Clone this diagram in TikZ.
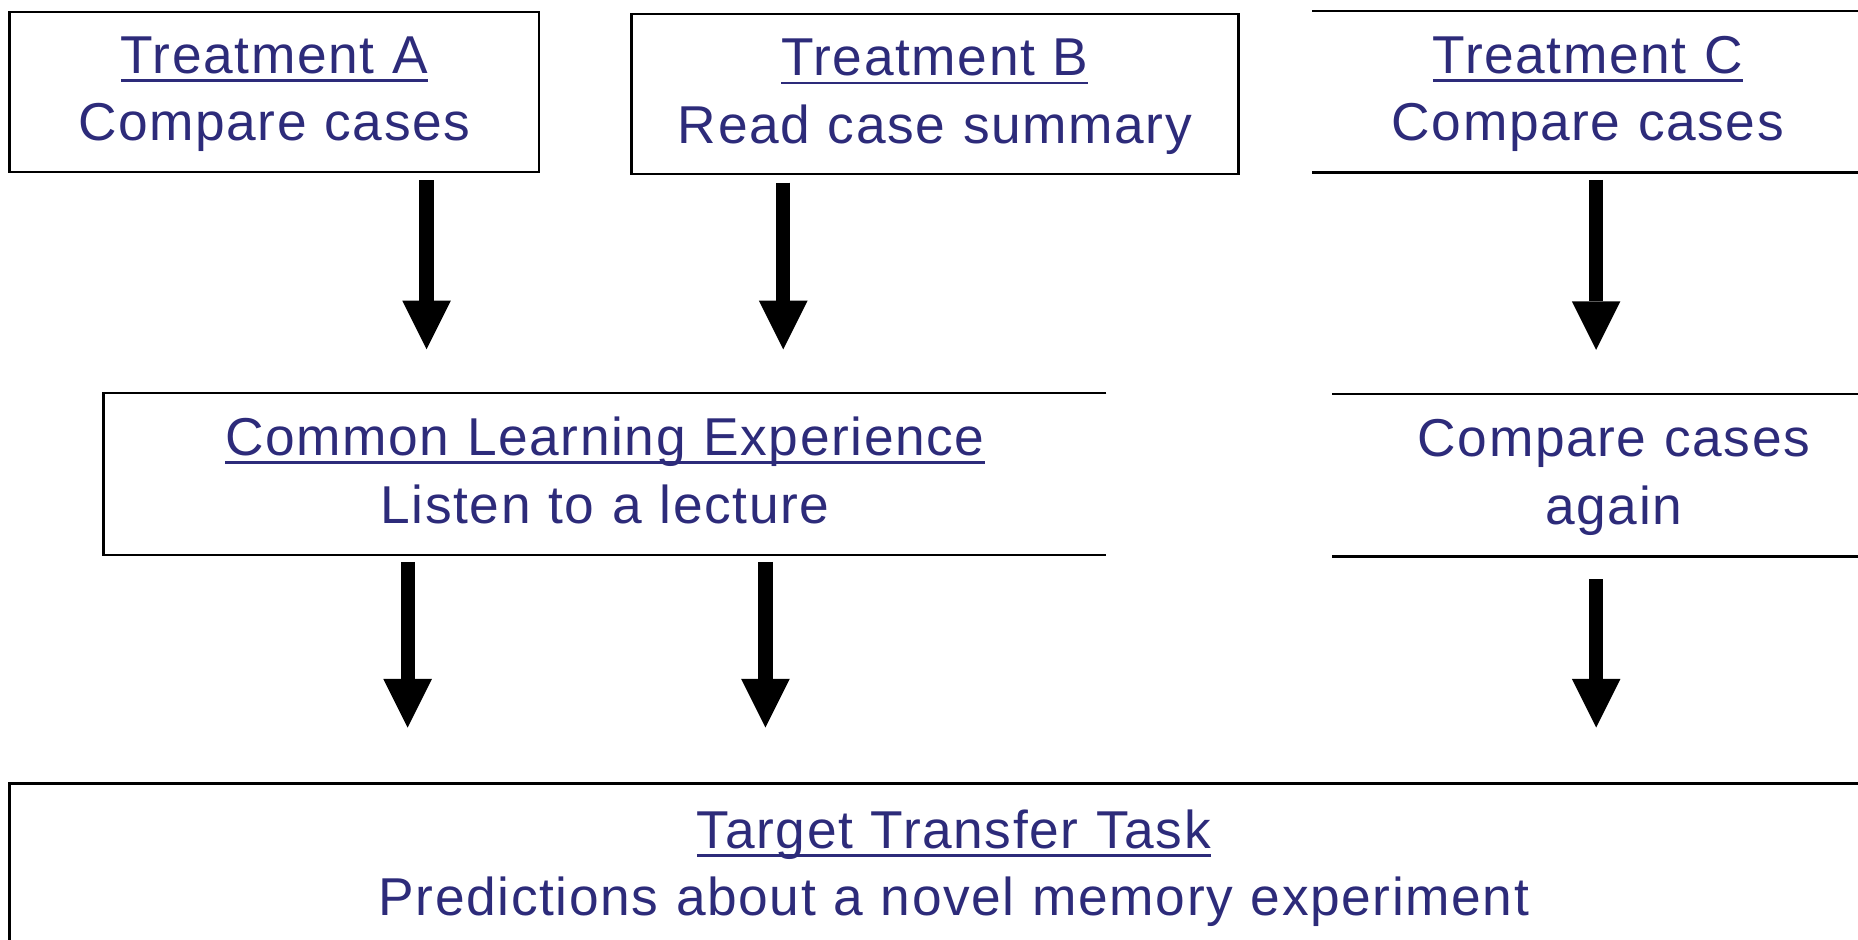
\documentclass[tikz,border=0pt]{standalone}
\usepackage{fontspec}
\setmainfont{Liberation Sans}[LetterSpace=3]
\usetikzlibrary{arrows.meta}
\definecolor{ink}{RGB}{45,43,122}
\newcommand{\hdline}[1]{\leavevmode\setbox0=\hbox{#1}\rlap{\rule[-0.16em]{\wd0}{0.05em}}\box0}
\tikzset{
  block/.style={text width=#1, align=center, minimum height=13.5mm, inner sep=0pt,
    text height=3.3mm, text depth=6.4mm, text=ink,
    font=\fontsize{12.8pt}{16.2pt}\selectfont},
  boxline/.style={draw=black, line width=0.6pt},
  flow/.style={line width=1.2mm, -{Triangle[width=4.1mm,length=4.1mm,line width=0pt]},
    shorten <=0.6mm, shorten >=3.7mm}
}

\begin{document}
\begin{tikzpicture}[x=0.1mm, y=-0.1mm]
\useasboundingbox (0,0) rectangle (1568,793);
\clip (0,0) rectangle (1568,793);
\node[block=44.7mm, boxline] (treatA) at (231.5,77.5) {\hdline{Treatment A}\\Compare cases};
\node[block=51.2mm, boxline] (treatB) at (789,79.5) {\hdline{Treatment B}\\Read case summary};
\node[block=46.4mm] (treatC) at (1340,77.5) {\hdline{Treatment C}\\Compare cases};
\node[block=84.5mm] (common) at (510.5,400) {\hdline{Common Learning Experience}\\Listen to a lecture};
\node[block=47.4mm, minimum height=13.6mm] (again) at (1362,401) {Compare cases\\again};
\node[block=159.4mm, minimum height=14.1mm, boxline] (target) at (805,731.5)
  {\hdline{Target Transfer Task}\\Predictions about a novel memory experiment};
% boxes with open sides
\draw[boxline] (treatC.north west) -- (treatC.north east) (treatC.south west) -- (treatC.south east);
\draw[boxline] (common.north east) -- (common.north west) -- (common.south west) -- (common.south east);
\draw[boxline] (again.north west) -- (again.north east) (again.south west) -- (again.south east);
% arrow columns
\coordinate (colA) at (360,0);
\coordinate (colB) at (661,0);
\coordinate (colC) at (1347,0);
\coordinate (colD) at (344,0);
\coordinate (colE) at (646,0);
\draw[flow] (treatA.south -| colA) -- (common.north -| colA);
\draw[flow] (treatB.south -| colB) -- (common.north -| colB);
\draw[flow] (treatC.south -| colC) -- (again.north -| colC);
\draw[flow, shorten >=4.6mm] (common.south -| colD) -- (target.north -| colD);
\draw[flow, shorten >=4.6mm] (common.south -| colE) -- (target.north -| colE);
\draw[flow, shorten <=1.9mm, shorten >=4.6mm] (again.south -| colC) -- (target.north -| colC);
\end{tikzpicture}
\end{document}
